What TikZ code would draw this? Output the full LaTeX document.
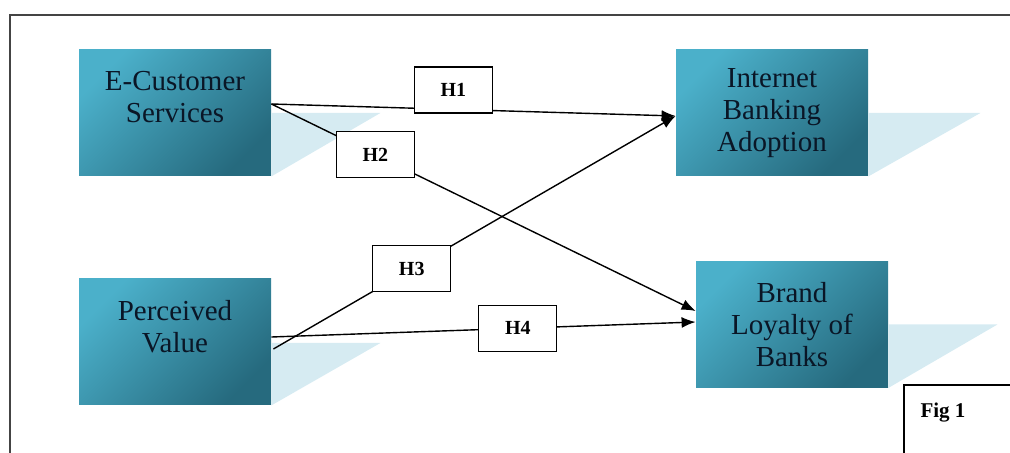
\documentclass[tikz,border=0pt]{standalone}
\usepackage{fontspec}
\setmainfont{Liberation Serif}
\usetikzlibrary{arrows.meta}

\definecolor{boxlight}{HTML}{4BB0CA}
\definecolor{boxdark}{HTML}{266A7E}
\definecolor{shadowblue}{HTML}{D6EBF2}
\definecolor{ink}{HTML}{0A1626}
\definecolor{framegray}{HTML}{444444}

\tikzset{
	var/.style={minimum width=96pt, minimum height=63pt, inner sep=0pt, align=center,
		top color=boxlight, bottom color=boxdark, shading angle=45,
		text=ink, font=\fontsize{14.5}{16}\selectfont},
	hyp/.style={draw, fill=white, line width=0.6pt, minimum width=39pt, minimum height=23pt,
		inner sep=0pt, font=\fontsize{10}{12}\selectfont\bfseries},
	link/.style={line width=0.7pt, -{Latex[length=7pt,width=5.5pt]}}
}

\begin{document}
	\begin{tikzpicture}[x=0.5pt, y=-0.5pt]
		\useasboundingbox (0,0) rectangle (1010,453);
		\clip (0,0) rectangle (1010,453);

		\draw[framegray, line width=1pt] (10,470) -- (10,15) -- (1030,15);

		\node[var] (ecs) at (175,113) {E-Customer\\Services\\\mbox{}};
		\node[var] (iba) at (772,113) {Internet\\Banking\\Adoption};
		\node[var] (pv) at (175,342) {Perceived\\Value\\\mbox{}};
		\node[var] (blb) at (792,324.5) {Brand\\Loyalty of\\Banks};

		% shadows
		\fill[shadowblue] (ecs.east) -- ++(109,0) -- (ecs.south east) -- cycle;
		\fill[shadowblue] (iba.east) -- ++(112,0) -- (iba.south east) -- cycle;
		\fill[shadowblue] ([yshift=-0.5pt]pv.east) -- ++(109,0) -- (pv.south east) -- cycle;
		\fill[shadowblue] (blb.east) -- ++(109,0) -- (blb.south east) -- cycle;

		\draw[link] ([yshift=4.5pt]ecs.east) -- node[hyp, pos=0.45, yshift=9.7pt] (h1) {H1} ([yshift=-1.5pt]iba.west);
		\draw[link] ([yshift=4.5pt]ecs.east) -- node[hyp, pos=0.245] (h2) {H2} ([yshift=6.75pt]blb.west);
		\draw[link] ([xshift=1pt, yshift=-3.5pt]pv.east) -- node[hyp, pos=0.344] (h3) {H3} ([yshift=-1.5pt]iba.west);
		\draw[link] ([yshift=2.5pt]pv.east) -- node[hyp, pos=0.581] (h4) {H4} ([yshift=1.25pt]blb.west);

		\draw[line width=0.7pt] (904,470) -- (904,385) -- (1030,385);
		\node[font=\fontsize{10.5}{12}\selectfont\bfseries] (fig) at (943,413) {Fig 1};
	\end{tikzpicture}
\end{document}
